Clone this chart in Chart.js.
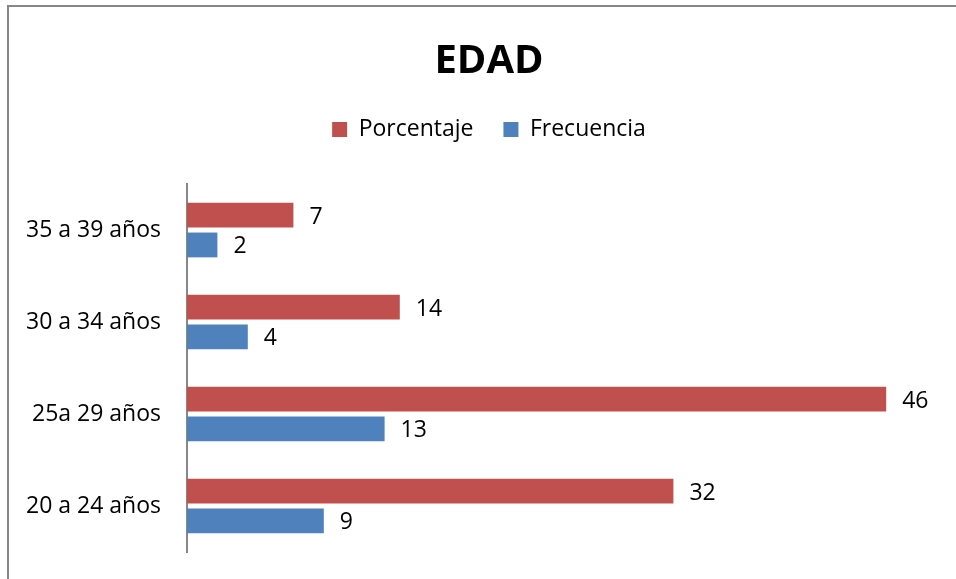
<!DOCTYPE html>
<html>
<head>
<meta charset="utf-8">
<script src="https://cdn.jsdelivr.net/npm/chart.js@4.4.0/dist/chart.umd.min.js"></script>
<style>
  body { margin: 0; background: #fff; overflow: hidden; }
  #wrap { position: relative; width: 956px; height: 579px; overflow: hidden; }
  #frame { position: absolute; left: 7px; top: 5px; width: 1000px; height: 700px;
           border-left: 2px solid #878787; border-top: 2px solid #878787; pointer-events: none; }
</style>
</head>
<body>
<div id="wrap">
  <!-- the chart object is a bit wider than the picture, its right edge is cut off -->
  <canvas id="myChart" width="978" height="579"></canvas>
  <div id="frame"></div>
</div>
<script>
const categories = ['35 a 39 años', '30 a 34 años', '25a 29 años', '20 a 24 años'];
const porcentaje = [7, 14, 46, 32];
const frecuencia = [2, 4, 13, 9];

const fontFamily = "'Open Sans', 'Noto Sans', sans-serif";

// draws the value next to the end of each bar
const valueLabels = {
    id: 'valueLabels',
    afterDatasetsDraw(chart){
        const ctx = chart.ctx;
        ctx.save();
        ctx.font = '23px ' + fontFamily;
        ctx.fillStyle = '#000';
        ctx.textAlign = 'left';
        ctx.textBaseline = 'middle';
        chart.data.datasets.forEach((ds, i) => {
            chart.getDatasetMeta(i).data.forEach((bar, j) => {
                ctx.fillText(ds.data[j], bar.x + 16, bar.y + 2);
            });
        });
        ctx.restore();
    }
};

// extra room under the legend
const legendGap = {
    id: 'legendGap',
    beforeInit(chart){
        const fit = chart.legend.fit;
        chart.legend.fit = function(){
            fit.bind(chart.legend)();
            this.height += 33;
        };
    }
};

function draw(){
    const ctx = document.getElementById('myChart').getContext('2d');
    const myChart = new Chart(ctx, {
        type: 'bar',
        data: {
            labels: categories,
            datasets: [{
                label: 'Porcentaje',
                data: porcentaje,
                backgroundColor: '#C0504D',
                categoryPercentage: 0.65,
                barPercentage: 0.83
            }, {
                label: 'Frecuencia',
                data: frecuencia,
                backgroundColor: '#4F81BD',
                categoryPercentage: 0.65,
                barPercentage: 0.83
            }]
        },
        options: {
            responsive: false,
            animation: false,
            indexAxis: 'y',
            layout: {
                padding: { top: 0, bottom: 27, left: 0, right: 0 }
            },
            plugins: {
                title: {
                    display: true,
                    text: 'EDAD',
                    color: '#000',
                    font: { family: fontFamily, size: 40, weight: 'bold' },
                    padding: { top: 38, bottom: 2 }
                },
                legend: {
                    display: true,
                    labels: {
                        color: '#000',
                        font: { family: fontFamily, size: 23 },
                        boxWidth: 15,
                        boxHeight: 15,
                        padding: 30
                    }
                },
                tooltip: { enabled: false }
            },
            scales: {
                x: {
                    display: false,
                    min: 0,
                    max: 50
                },
                y: {
                    grid: {
                        display: false,
                        drawTicks: false
                    },
                    border: { display: true, color: '#878787', width: 2 },
                    ticks: {
                        color: '#000',
                        padding: 26,
                        font: { family: fontFamily, size: 23 }
                    },
                    afterFit(scale){
                        scale.width = 187;
                        scale.paddingTop = 0;
                        scale.paddingBottom = 0;
                        scale.paddingRight = 31;
                    }
                }
            }
        },
        plugins: [valueLabels, legendGap]
    });
}

window.onload = () =>{
    Promise.all([
        document.fonts.load("23px 'Open Sans'"),
        document.fonts.load("bold 40px 'Open Sans'")
    ]).then(draw, draw);
}
</script>
</body>
</html>
